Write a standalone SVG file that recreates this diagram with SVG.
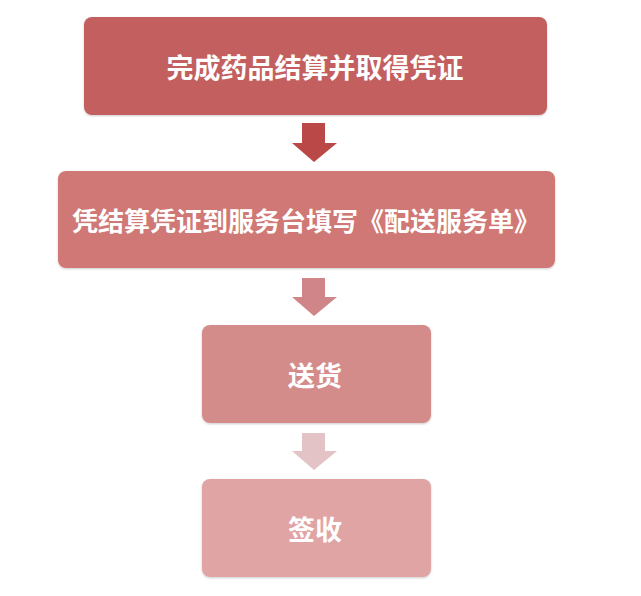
<svg xmlns="http://www.w3.org/2000/svg" width="641" height="596" viewBox="0 0 641 596">
<defs>
<style>
.t{font-family:"Noto Sans CJK SC","Noto Sans",sans-serif;font-weight:bold;fill:#ffffff;text-anchor:middle;dominant-baseline:central}
</style>
<filter id="sh" x="-5%" y="-10%" width="110%" height="125%">
<feDropShadow dx="0" dy="1" stdDeviation="1.2" flood-color="#000" flood-opacity="0.2"/>
</filter>
</defs>
<rect width="641" height="596" fill="#ffffff"/>
<g id="connectors">
<polygon points="302,123 325,123 325,143 337,143 314,162 292,143 302,143" fill="#b94847"/>
<polygon points="302,278 325,278 325,297 337,297 314,316 292,297 302,297" fill="#d08688"/>
<polygon points="302,433 325,433 325,451 337,451 314,470 292,451 302,451" fill="#e3c3c6"/>
</g>
<g id="node1">
<rect x="84" y="17" width="463" height="98" rx="8" fill="#c35f5e" filter="url(#sh)"/>
<text class="t" x="315" y="66" font-size="27">完成药品结算并取得凭证</text>
</g>
<g id="node2">
<rect x="58" y="171" width="497" height="97" rx="8" fill="#d07875" filter="url(#sh)"/>
<text class="t" x="306" y="219" font-size="26">凭结算凭证到服务台填写《配送服务单》</text>
</g>
<g id="node3">
<rect x="202" y="325" width="229" height="98" rx="8" fill="#d48c8b" filter="url(#sh)"/>
<text class="t" x="315" y="374" font-size="27">送货</text>
</g>
<g id="node4">
<rect x="202" y="479" width="229" height="98" rx="8" fill="#e0a4a4" filter="url(#sh)"/>
<text class="t" x="315" y="528" font-size="27">签收</text>
</g>
</svg>
